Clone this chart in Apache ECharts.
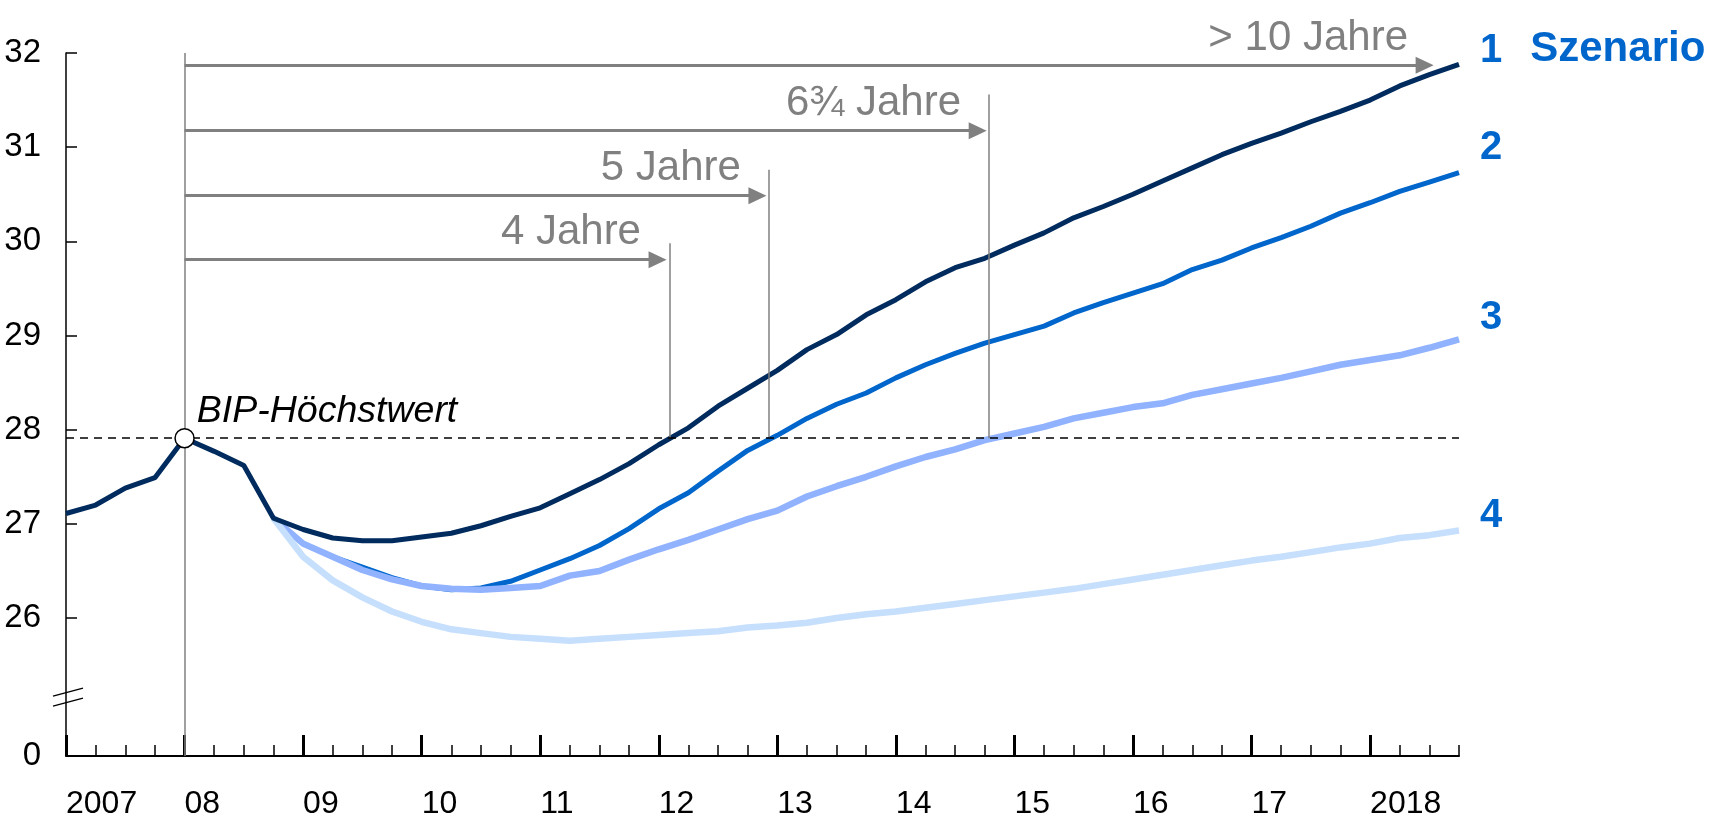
<!DOCTYPE html>
<html><head><meta charset="utf-8">
<script src="https://cdn.jsdelivr.net/npm/echarts@6/dist/echarts.min.js"></script>
<style>html,body{margin:0;padding:0;background:#fff}#c{width:1710px;height:820px}</style>
</head><body><div id="c"></div>
<script>
// ---- data (quarterly index 0 = 2007 Q1 ... 47 = 2018 Q4) ----
const yearLabels = ['2007','08','09','10','11','12','13','14','15','16','17','2018'];
const yearTickIdx = [0,4,8,12,16,20,24,28,32,36,40,44];
const quarterIdx = [0,1,2,3,4,5,6,7,8,9,10,11,12,13,14,15,16,17,18,19,20,21,22,23,24,25,26,27,28,29,30,31,32,33,34,35,36,37,38,39,40,41,42,43,44,45,46,47];
const yTickValues = [26,27,28,29,30,31,32];
const yBottomLabel = '0';

const scenario1 = [27.11,27.20,27.38,27.49,27.91,27.77,27.62,27.06,26.94,26.85,26.82,26.82,26.86,26.90,26.98,27.08,
  27.17,27.32,27.47,27.64,27.84,28.02,28.25,28.44,28.63,28.85,29.01,29.22,29.38,29.57,29.72,29.82,
  29.96,30.09,30.25,30.37,30.50,30.64,30.78,30.92,31.04,31.15,31.27,31.38,31.50,31.65,31.77,31.88];
const splitIdx = 7;
const scenario2 = [27.06,26.79,26.65,26.54,26.43,26.34,26.30,26.32,26.39,26.51,26.63,26.77,26.95,27.16,27.33,27.56,
  27.78,27.94,28.12,28.27,28.39,28.55,28.69,28.81,28.92,29.01,29.10,29.24,29.35,29.45,29.55,29.70,
  29.80,29.93,30.04,30.16,30.30,30.41,30.53,30.63,30.73];
const scenario3 = [27.06,26.79,26.65,26.51,26.41,26.34,26.31,26.30,26.32,26.34,26.45,26.50,26.62,26.73,26.83,26.94,
  27.05,27.14,27.29,27.40,27.50,27.61,27.71,27.79,27.89,27.96,28.03,28.12,28.18,28.24,28.28,28.37,
  28.43,28.49,28.55,28.62,28.69,28.74,28.79,28.87,28.96];
const scenario4 = [27.06,26.65,26.40,26.22,26.07,25.96,25.88,25.84,25.80,25.78,25.76,25.78,25.80,25.82,25.84,25.86,
  25.90,25.92,25.95,26.00,26.04,26.07,26.11,26.15,26.19,26.23,26.27,26.31,26.36,26.41,26.46,26.51,
  26.56,26.61,26.65,26.70,26.75,26.79,26.85,26.88,26.93];
const scenarioNames = ['1','2','3','4'];

// annotation arrows: label, arrow level (y), arrow tip (x), crossing marker x / top (y)
const arrowLabels = ['> 10 Jahre','6\u00BE Jahre','5 Jahre','4 Jahre'];
const arrowY = [31.87, 31.175, 30.485, 29.805];
const arrowTipX = [46.14, 31.06, 23.63, 20.26];
const crossX = [null, 31.14, 23.72, 20.37];
const crossTopY = [null, 31.56, 30.76, 29.98];
const peakLabel = 'BIP-H\u00F6chstwert';

// ---- layout / style ----
const Y_MIN = 24.535, Y_MAX = 32, X_MAX = 47;
const FONT = '"Liberation Sans", Arial, sans-serif';
const C1 = '#002B5E', C2 = '#0066CC', C3 = '#90B2FF', C4 = '#C6DFFC', GRAY = '#808080', LBL = '#0066CC';
const HEAD = 0.3; // half arrow-head length in quarters

const peakVal = Math.max(...scenario1.slice(0, splitIdx + 1));
const peakIdx = scenario1.indexOf(peakVal);

const pairs = (arr, start) => arr.map((v, k) => [quarterIdx[start + k], v]);

function endLabel(text, dy, rich) {
  return {
    show: true, formatter: text, distance: 5, offset: [16, dy],
    color: LBL, fontSize: 40, fontWeight: 'bold', fontFamily: FONT, rich: rich
  };
}

const arrowLines = arrowLabels.map((l, k) => [
  { coord: [peakIdx, arrowY[k]] },
  { coord: [arrowTipX[k] - HEAD, arrowY[k]] }
]);
const vLines = [[{ coord: [peakIdx, Y_MAX] }, { coord: [peakIdx, Y_MIN] }]];
crossX.forEach((x, k) => {
  if (x != null) vLines.push([{ coord: [x, crossTopY[k]] }, { coord: [x, peakVal] }]);
});

const chart = echarts.init(document.getElementById('c'));
chart.setOption({
  animation: false,
  backgroundColor: '#fff',
  textStyle: { fontFamily: FONT },
  grid: { left: 66, right: 251, top: 53, bottom: 64, containLabel: false, outerBoundsMode: 'none' },
  xAxis: [{
    type: 'value', min: 0, max: X_MAX,
    axisLine: { show: true, lineStyle: { color: '#000', width: 2 } },
    axisTick: { show: true, inside: true, length: 21, customValues: yearTickIdx, lineStyle: { color: '#000', width: 3 } },
    axisLabel: {
      show: true, customValues: yearTickIdx, align: 'left', margin: 32,
      fontSize: 32, color: '#000', fontFamily: FONT,
      formatter: v => yearLabels[yearTickIdx.indexOf(Math.round(v))] || ''
    },
    splitLine: { show: false }
  }, {
    type: 'value', min: 0, max: X_MAX, position: 'bottom',
    axisLine: { show: false },
    axisTick: { show: true, inside: true, length: 11, customValues: quarterIdx, lineStyle: { color: '#000', width: 1.5 } },
    axisLabel: { show: false },
    splitLine: { show: false }
  }],
  yAxis: {
    type: 'value', min: Y_MIN, max: Y_MAX,
    axisLine: { show: true, lineStyle: { color: '#000', width: 1.5 } },
    axisTick: { show: true, inside: true, length: 11, customValues: yTickValues, lineStyle: { color: '#000', width: 1.5 } },
    axisLabel: {
      show: true, customValues: [Y_MIN].concat(yTickValues), margin: 25,
      fontSize: 33, color: '#000', fontFamily: FONT,
      formatter: v => (Math.abs(v - Y_MIN) < 1e-6 ? yBottomLabel : String(Math.round(v)))
    },
    splitLine: { show: false }
  },
  series: [
    { // vertical reference lines
      type: 'scatter', data: [], clip: false, z: 1, silent: true,
      markLine: { silent: true, symbol: ['none', 'none'], label: { show: false },
        lineStyle: { color: GRAY, width: 1.5, type: 'solid', opacity: 1 }, data: vLines, animation: false }
    },
    { // arrow shafts
      type: 'scatter', data: [], clip: false, z: 1, silent: true,
      markLine: { silent: true, symbol: ['none', 'none'], label: { show: false },
        lineStyle: { color: GRAY, width: 3, type: 'solid', opacity: 1 }, data: arrowLines, animation: false }
    },
    { // arrow heads
      type: 'scatter', clip: false, z: 2, silent: true, symbol: 'triangle', symbolSize: [17, 18], symbolRotate: -90,
      itemStyle: { color: GRAY, opacity: 1 },
      data: arrowLabels.map((l, k) => [arrowTipX[k] - HEAD, arrowY[k]])
    },
    { // arrow texts
      type: 'scatter', clip: false, z: 2, silent: true, symbolSize: 1,
      itemStyle: { color: 'rgba(0,0,0,0)', opacity: 1 },
      data: arrowLabels.map((l, k) => [arrowTipX[k], arrowY[k], l]),
      label: { show: true, position: 'left', distance: 25, offset: [0, -27],
        formatter: p => p.value[2], color: GRAY, fontSize: 42, fontFamily: FONT }
    },
    {
      name: scenarioNames[1], type: 'line', data: pairs(scenario2, splitIdx), showSymbol: false, symbol: 'none', z: 3,
      lineStyle: { color: C2, width: 5 }, itemStyle: { color: C2 },
      endLabel: endLabel('2', -25)
    },
    {
      name: scenarioNames[2], type: 'line', data: pairs(scenario3, splitIdx), showSymbol: false, symbol: 'none', z: 3,
      lineStyle: { color: C3, width: 6.5 }, itemStyle: { color: C3 },
      endLabel: endLabel('3', -21)
    },
    {
      name: scenarioNames[3], type: 'line', data: pairs(scenario4, splitIdx), showSymbol: false, symbol: 'none', z: 3,
      lineStyle: { color: C4, width: 6.5 }, itemStyle: { color: C4 },
      endLabel: endLabel('4', -14)
    },
    {
      name: scenarioNames[0], type: 'line', data: pairs(scenario1, 0), showSymbol: false, symbol: 'none', z: 4,
      lineStyle: { color: C1, width: 5 }, itemStyle: { color: C1 },
      endLabel: endLabel('{n|1}{s|Szenario}', -13, {
        n: { fontSize: 40, fontWeight: 'bold', color: LBL, fontFamily: FONT },
        s: { fontSize: 42, fontWeight: 'bold', color: LBL, fontFamily: FONT, padding: [0, 0, 4, 28] }
      }),
      markLine: { silent: true, symbol: ['none', 'none'], label: { show: false },
        lineStyle: { color: '#000', width: 1.5, type: [8, 6], opacity: 1 },
        data: [[{ coord: [0, peakVal] }, { coord: [X_MAX, peakVal] }]], animation: false }
    },
    { // peak marker
      type: 'scatter', data: [[peakIdx, peakVal]], z: 6, symbol: 'circle', symbolSize: 19,
      itemStyle: { color: '#fff', borderColor: '#000', borderWidth: 1.5, opacity: 1 },
      label: { show: true, position: 'right', distance: 2, offset: [0, -27],
        formatter: peakLabel, fontStyle: 'italic', fontSize: 37.5, color: '#000', fontFamily: FONT }
    }
  ]
});

// axis break mark on the y axis
const bx = chart.convertToPixel({ xAxisIndex: 0 }, 0);
const by = chart.convertToPixel({ yAxisIndex: 0 }, 25.16);
chart.setOption({
  graphic: [
    { type: 'line', shape: { x1: bx - 13, y1: by - 1, x2: bx + 17, y2: by - 9 }, style: { stroke: '#000', lineWidth: 1.5 }, z: 10 },
    { type: 'line', shape: { x1: bx - 13, y1: by + 9, x2: bx + 17, y2: by + 1 }, style: { stroke: '#000', lineWidth: 1.5 }, z: 10 }
  ]
});
</script></body></html>
